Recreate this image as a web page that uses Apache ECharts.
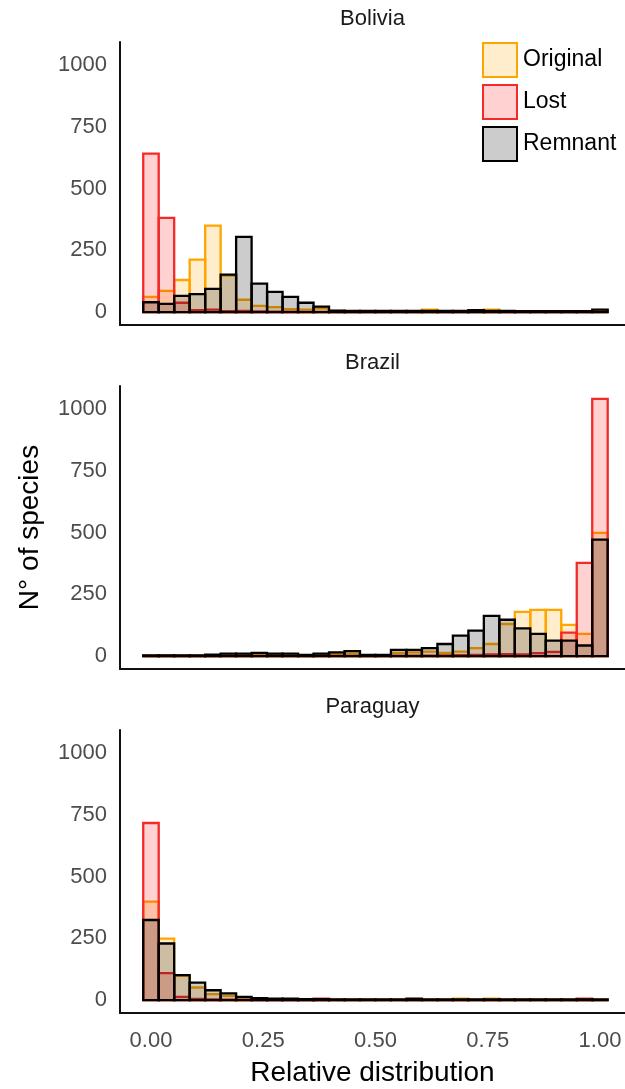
<!DOCTYPE html>
<html>
<head>
<meta charset="utf-8">
<script src="https://cdn.jsdelivr.net/npm/echarts@6/dist/echarts.min.js"></script>
<style>
  html, body { margin: 0; padding: 0; background: #ffffff; }
  #chart { width: 625px; height: 1089px; }
</style>
</head>
<body>
<div id="chart"></div>
<script>
// Histogram counts: 30 bins centred on 0, 1/29, ..., 1 (relative distribution)
const countries = ['Bolivia', 'Brazil', 'Paraguay'];
const groups = ['Original', 'Lost', 'Remnant'];

const boliviaOriginal = [62, 86, 130, 212, 350, 148, 50, 25, 20, 12, 10, 15, 5, 4, 4, 3, 3, 4, 10, 3, 3, 3, 10, 3, 3, 3, 2, 2, 2, 5];
const boliviaLost     = [641, 381, 38, 8, 10, 4, 5, 3, 2, 2, 1, 1, 1, 0, 0, 0, 0, 0, 0, 0, 0, 0, 0, 0, 0, 0, 0, 0, 0, 0];
const boliviaRemnant  = [40, 33, 66, 73, 94, 152, 304, 115, 82, 62, 38, 22, 6, 5, 5, 5, 5, 5, 5, 5, 5, 8, 5, 5, 4, 4, 4, 4, 4, 10];

const brazilOriginal = [2, 4, 2, 2, 4, 5, 5, 6, 5, 5, 3, 5, 8, 10, 3, 3, 13, 15, 18, 13, 18, 32, 49, 130, 179, 187, 187, 126, 90, 498];
const brazilLost     = [1, 1, 1, 1, 1, 1, 1, 1, 1, 1, 1, 1, 1, 1, 1, 1, 2, 2, 2, 3, 4, 5, 7, 8, 7, 12, 17, 95, 377, 1040];
const brazilRemnant  = [3, 3, 3, 3, 6, 10, 10, 13, 10, 10, 5, 10, 15, 20, 5, 5, 25, 25, 32, 49, 83, 103, 163, 147, 112, 90, 63, 63, 43, 471];

const paraguayOriginal = [398, 249, 98, 51, 24, 17, 8, 5, 4, 4, 3, 3, 2, 2, 2, 2, 2, 3, 2, 2, 6, 2, 6, 2, 2, 2, 2, 2, 2, 2];
const paraguayLost     = [716, 109, 13, 5, 3, 2, 1, 1, 1, 1, 1, 6, 1, 0, 0, 0, 0, 0, 0, 0, 0, 0, 0, 0, 0, 0, 0, 0, 6, 0];
const paraguayRemnant  = [324, 229, 101, 71, 40, 27, 13, 8, 6, 6, 4, 4, 3, 3, 3, 3, 3, 6, 3, 3, 3, 3, 3, 3, 3, 3, 3, 3, 3, 3];

const xTickValues = [0, 0.25, 0.5, 0.75, 1];
const yTickValues = [0, 250, 500, 750, 1000];

const counts = {
  Bolivia:  { Original: boliviaOriginal,  Lost: boliviaLost,  Remnant: boliviaRemnant },
  Brazil:   { Original: brazilOriginal,   Lost: brazilLost,   Remnant: brazilRemnant },
  Paraguay: { Original: paraguayOriginal, Lost: paraguayLost, Remnant: paraguayRemnant }
};

// Styling
const FONT = "'Liberation Sans', Arial, sans-serif";
const groupStyle = {
  Original: { fill: 'rgba(255,165,0,0.2)',  stroke: '#FFA500' },
  Lost:     { fill: 'rgba(255,0,0,0.18)',   stroke: '#F22A2A' },
  Remnant:  { fill: 'rgba(0,0,0,0.2)',      stroke: '#000000' }
};
const panelTop = [42, 386, 730];
const panelHeight = 283;
const gridLeft = 120;
const gridWidth = 505;
const nBins = 30;
const binWidth = 1 / (nBins - 1);
const yMax = 1040 * 1.05, yMin = -1040 * 0.05;
const xMin = -0.5 * binWidth - 0.05 * (1 + binWidth);
const xMax = xMin + gridWidth / 449;

function binData(values) {
  return values.map((v, i) => [i * binWidth - binWidth / 2, i * binWidth + binWidth / 2, v]);
}

function makeRender(style) {
  return function (params, api) {
    const p0 = api.coord([api.value(0), 0]);
    const p1 = api.coord([api.value(1), api.value(2)]);
    return {
      type: 'rect',
      shape: { x: p0[0], y: p1[1], width: p1[0] - p0[0], height: p0[1] - p1[1] },
      style: { fill: style.fill, stroke: style.stroke, lineWidth: 2.3 }
    };
  };
}

const grid = [], xAxis = [], yAxis = [], series = [], graphic = [];
countries.forEach((c, k) => {
  grid.push({ left: gridLeft, top: panelTop[k], width: gridWidth, height: panelHeight, containLabel: false });
  xAxis.push({
    type: 'value', gridIndex: k, min: xMin, max: xMax,
    axisLine: { show: true, onZero: false, lineStyle: { color: '#111111', width: 2 } },
    axisTick: { show: false }, splitLine: { show: false },
    axisLabel: {
      show: k === 2, customValues: xTickValues, margin: 17,
      formatter: v => v.toFixed(2), color: '#4D4D4D', fontSize: 22, fontFamily: FONT
    }
  });
  yAxis.push({
    type: 'value', gridIndex: k, min: yMin, max: yMax,
    axisLine: { show: true, onZero: false, lineStyle: { color: '#111111', width: 2 } },
    axisTick: { show: false }, splitLine: { show: false },
    axisLabel: {
      customValues: yTickValues, margin: 13,
      formatter: v => String(v),
      color: '#4D4D4D', fontSize: 22, fontFamily: FONT
    }
  });
  groups.forEach(g => {
    series.push({
      name: g, type: 'custom', xAxisIndex: k, yAxisIndex: k,
      renderItem: makeRender(groupStyle[g]),
      encode: { x: [0, 1], y: 2 },
      itemStyle: { color: groupStyle[g].fill, borderColor: groupStyle[g].stroke, borderWidth: 2 },
      data: binData(counts[c][g]),
      silent: true, animation: false
    });
  });
  graphic.push({
    type: 'text', x: gridLeft + gridWidth / 2, y: panelTop[k] - 23,
    style: { text: c, fill: '#1A1A1A', font: '22px ' + FONT, textAlign: 'center', textVerticalAlign: 'middle' }
  });
});

graphic.push({
  type: 'text', x: 30, y: panelTop[1] + panelHeight / 2, rotation: Math.PI / 2,
  style: { text: 'N° of species', fill: '#000000', font: '28px ' + FONT, textAlign: 'center', textVerticalAlign: 'middle' }
});
graphic.push({
  type: 'text', x: gridLeft + gridWidth / 2, y: 1073,
  style: { text: 'Relative distribution', fill: '#000000', font: '28px ' + FONT, textAlign: 'center', textVerticalAlign: 'middle' }
});

const chart = echarts.init(document.getElementById('chart'), null, { renderer: 'canvas' });
chart.setOption({
  animation: false,
  backgroundColor: '#ffffff',
  grid, xAxis, yAxis, series,
  legend: {
    orient: 'vertical', left: 482, top: 42, padding: 0,
    itemWidth: 34, itemHeight: 34, itemGap: 6, selectedMode: false,
    textStyle: { fontSize: 23, fontFamily: FONT, color: '#000000', padding: [4, 0, 0, 1] },
    data: groups.map(g => ({
      name: g, icon: 'rect',
      itemStyle: { color: groupStyle[g].fill, borderColor: groupStyle[g].stroke, borderWidth: 2 }
    }))
  },
  graphic
});
</script>
</body>
</html>
